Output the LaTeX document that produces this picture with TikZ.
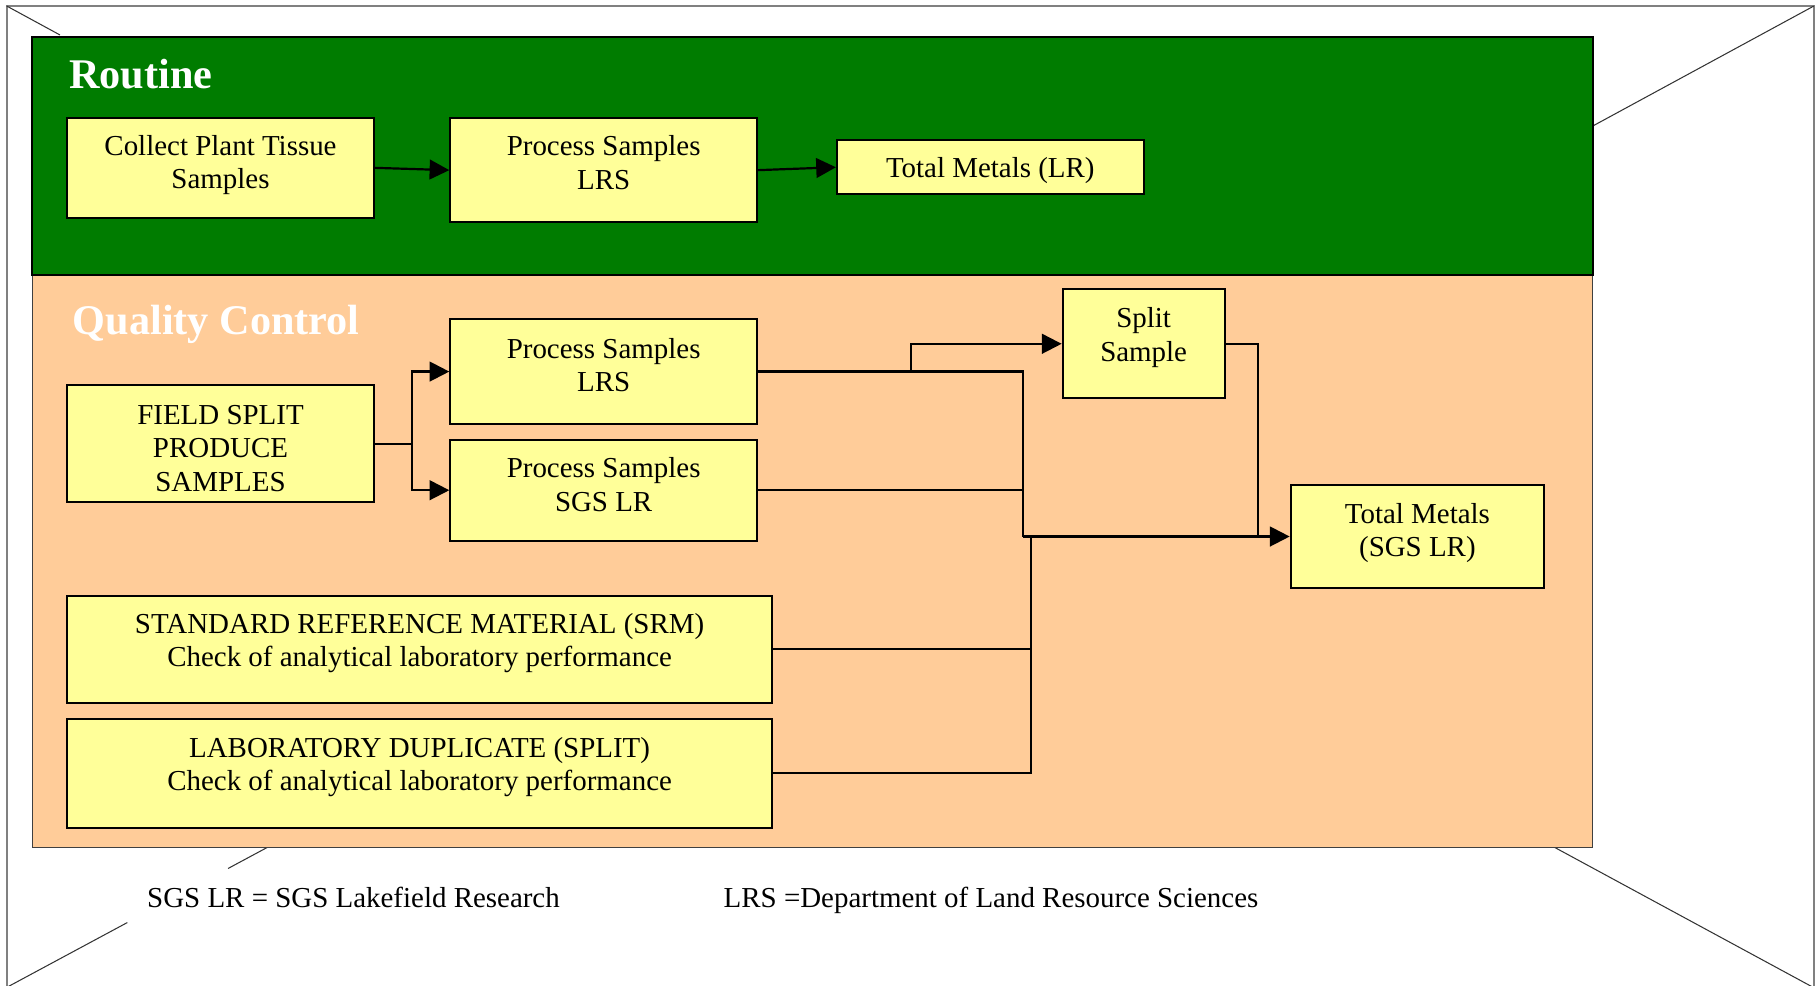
\documentclass[tikz,border=0pt]{standalone}
\usepackage{fontspec}
\setmainfont{Liberation Serif}
\usetikzlibrary{arrows.meta}
\definecolor{hdrgreen}{HTML}{007C00}
\definecolor{peach}{HTML}{FFCC99}
\definecolor{paleyellow}{HTML}{FFFF99}
\definecolor{framegray}{HTML}{808080}
\begin{document}
\begin{tikzpicture}[x=1pt,y=-1pt,
  box/.style={draw=black, line width=1.7pt, fill=paleyellow, inner sep=0pt},
  txt/.style={align=center, font=\fontsize{25}{29}\selectfont, inner sep=0pt},
  conn/.style={line width=1.9pt, draw=black},
  arr/.style={conn, -{Triangle[length=17pt,width=17pt]}},
  diag/.style={line width=0.9pt, draw=black!80},
  paneltitle/.style={font=\fontsize{36.5}{40}\selectfont\bfseries, text=white, anchor=base west, inner sep=0pt}]
\useasboundingbox (0,0) rectangle (1568,851);
% outer frame and perspective lines
\draw[framegray, line width=1.6pt] (5.8,880) -- (5.8,5.2) -- (1567,5.2) -- (1567,880);
\draw[diag] (5.8,5.2) -- (51.8,30.2);
\draw[diag] (1567,5.2) -- (1375,109.4);
\draw[diag] (1342,731.5) -- (1567,853.3);
\draw[diag] (232,731.5) -- (197,750.3);
\draw[diag] (110,797) -- (5.8,853);
% panels
\node[draw=black!75, line width=1.4pt, fill=peach, inner sep=0pt, anchor=north west,
      minimum width=1347.5pt, minimum height=494.5pt] (qcpanel) at (27.5,237) {};
\node[draw=black, line width=1.8pt, fill=hdrgreen, inner sep=0pt, anchor=north west,
      minimum width=1348.5pt, minimum height=206pt] (rtpanel) at (26.5,31) {};
\node[paneltitle] (rtitle) at (59.6,76.3) {Routine};
\node[paneltitle] (qtitle) at (62.8,289.4) {Quality Control};
% routine boxes
\node[box, minimum width=265pt, minimum height=86pt] (c1) at (190.5,145) {};
\node[txt] (c1t) at (190.5,142.5) {Collect Plant Tissue\\Samples};
\node[box, minimum width=265pt, minimum height=90pt] (p1) at (521.5,147) {};
\node[txt] (p1t) at (521.5,140.5) {Process Samples\\LRS};
\node[box, minimum width=265pt, minimum height=47pt] (t1) at (855.5,144.5) {};
\node[txt] (t1t) at (855.5,147.5) {Total Metals (LR)};
% quality control boxes
\node[box, minimum width=265pt, minimum height=101pt] (field) at (190.5,383.5) {};
\node[txt] (fieldt) at (190.5,387.5) {FIELD SPLIT\\PRODUCE\\SAMPLES};
\node[box, minimum width=265pt, minimum height=90pt] (pl) at (521.5,321) {};
\node[txt] (plt) at (521.5,315.5) {Process Samples\\LRS};
\node[box, minimum width=265pt, minimum height=87pt] (ps) at (521.5,423.5) {};
\node[txt] (pst) at (521.5,418.5) {Process Samples\\SGS LR};
\node[box, minimum width=140pt, minimum height=94pt] (split) at (988,297) {};
\node[txt] (splitt) at (988,291.5) {Split\\Sample};
\node[box, minimum width=219pt, minimum height=89pt] (tm) at (1224.5,463.5) {};
\node[txt] (tmt) at (1224.5,460.5) {Total Metals\\(SGS LR)};
\node[box, minimum width=609pt, minimum height=92pt] (srm) at (362.5,561) {};
\node[txt] (srmt) at (362.5,555.5) {STANDARD REFERENCE MATERIAL (SRM)\\Check of analytical laboratory performance};
\node[box, minimum width=609pt, minimum height=94pt] (lab) at (362.5,668) {};
\node[txt] (labt) at (362.5,662.5) {LABORATORY DUPLICATE (SPLIT)\\Check of analytical laboratory performance};
% connectors
\draw[arr] (c1.east) -- (p1.west);
\draw[arr] (p1.east) -- (t1.west);
\coordinate (fj) at (356,383.5);
\draw[conn] (field.east) -- (fj);
\draw[arr] (fj) |- (pl.west);
\draw[arr] (fj) |- (ps.west);
\coordinate (lj) at (884,321);
\coordinate (sb) at (787,321);
\coordinate (mj) at (884,463.5);
\coordinate (sj) at (1087,463.5);
\coordinate (bj) at (891,463.5);
\draw[conn] (pl.east) -- (lj) -- (mj);
\draw[arr] (sb) |- (split.west);
\draw[conn] (ps.east) -- (ps.east -| lj);
\draw[arr] (mj) -- (tm.west);
\draw[conn] (split.east) -| (sj);
\draw[conn] (srm.east) -| (bj);
\draw[conn] (lab.east) -| (bj);
% notes
\node[txt, anchor=base west] (note1) at (127,784) {SGS LR = SGS Lakefield Research};
\node[txt, anchor=base west] (note2) at (625,784) {LRS =Department of Land Resource Sciences};
\end{tikzpicture}
\end{document}
